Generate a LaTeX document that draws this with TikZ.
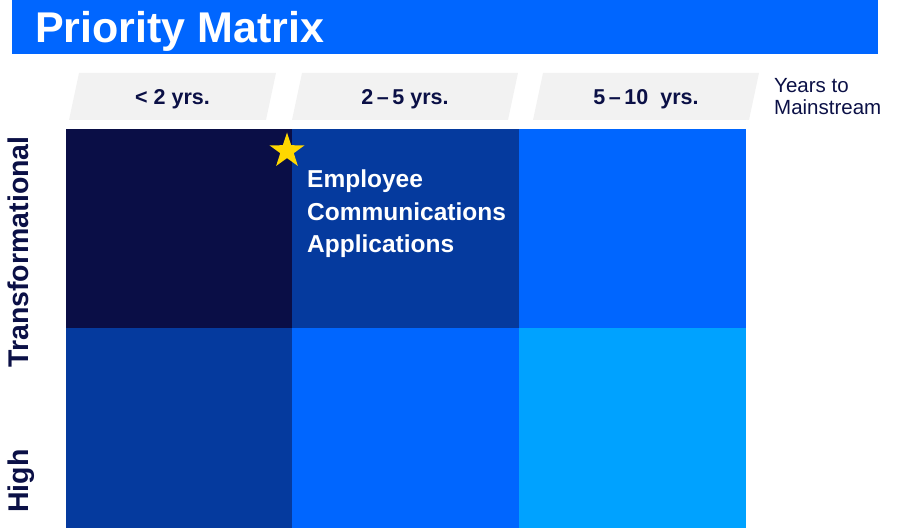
\documentclass[tikz,border=0pt]{standalone}
\usepackage{fontspec}
\setmainfont{Liberation Sans}
\usetikzlibrary{shapes.geometric}
\definecolor{brandblue}{HTML}{0066FF}
\definecolor{deepnavy}{HTML}{0A0E46}
\definecolor{midblue}{HTML}{053A9E}
\definecolor{skyblue}{HTML}{00A2FF}
\definecolor{headgray}{HTML}{F2F2F2}
\definecolor{inknavy}{HTML}{0B1046}
\definecolor{stargold}{HTML}{FFD700}

\begin{document}
\begin{tikzpicture}[x=1pt,y=-1pt,
    cell/.style={inner sep=0pt,minimum width=227pt,minimum height=199pt},
    headlabel/.style={font=\bfseries\fontsize{21.5}{24}\selectfont,text=inknavy},
    sidelabel/.style={rotate=90,anchor=base,font=\bfseries\fontsize{28.5}{30}\selectfont,text=inknavy}]
	\useasboundingbox (0,0) rectangle (897,529);
	% title banner
	\fill[brandblue] (12,0) rectangle (878,54);
	\node[anchor=base west,inner sep=0pt,text=white,font=\bfseries\fontsize{43}{46}\selectfont] (title) at (35,43) {Priority Matrix};
	% column heads
	\foreach \xa/\hw/\name/\txt in {69/197/h1/{< 2 yrs.},292/216/h2/{2\,–\,5 yrs.},533/216/h3/{5\,–\,10\ \ yrs.}}{
		\fill[headgray] (\xa,120) -- (\xa+10,73) -- (\xa+10+\hw,73) -- (\xa+\hw,120) -- cycle;
		\node[headlabel,anchor=base,inner sep=0pt] (\name) at (\xa+5+\hw/2,105) {\txt};
	}
	\node[anchor=base west,align=left,inner sep=0pt,text=inknavy,font=\fontsize{20.5}{22}\selectfont] (axis) at (774,115) {Years to\\Mainstream};
	% matrix cells
	\node[cell,fill=deepnavy] (c11) at (179.5,229) {};
	\node[cell,fill=midblue] (c12) at (405.5,229) {};
	\node[cell,fill=brandblue] (c13) at (632.5,229) {};
	\node[cell,fill=midblue] (c21) at (179.5,428) {};
	\node[cell,fill=brandblue] (c22) at (405.5,428) {};
	\node[cell,fill=skyblue] (c23) at (632.5,428) {};
	% row labels
	\node[sidelabel] (trans) at (28,252) {Transformational};
	\node[sidelabel] (high) at (28,481) {High};
	% entry
	\node[star,star points=5,star point ratio=2.6,fill=stargold,inner sep=0pt,minimum size=37pt] (mark) at (287,151) {};
	\node[anchor=base west,align=left,inner sep=0pt,text=white,font=\bfseries\fontsize{24.5}{32.5}\selectfont] (entry) at (307,253) {Employee\\Communications\\Applications};
\end{tikzpicture}
\end{document}
